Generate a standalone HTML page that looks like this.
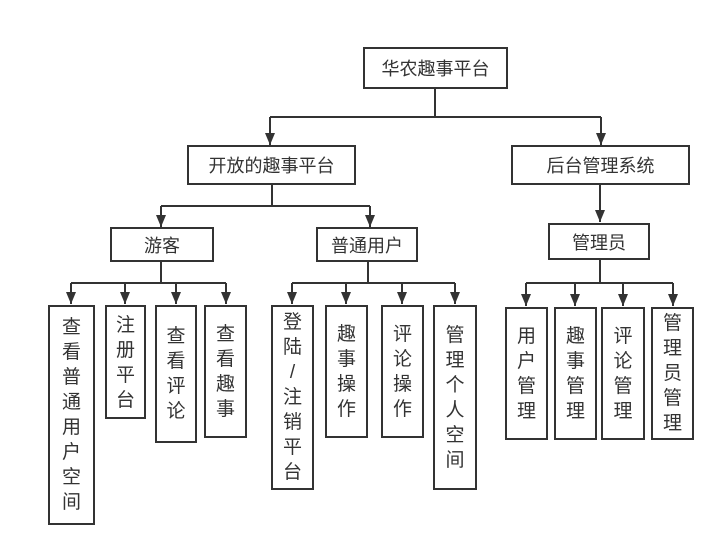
<!DOCTYPE html>
<html><head><meta charset="utf-8"><style>
body{margin:0;background:#fff;width:726px;height:556px;position:relative;overflow:hidden;font-family:"Liberation Sans","Noto Sans CJK SC",sans-serif;color:#333}
.b{position:absolute;box-sizing:border-box;border:2px solid #333;background:#fff;display:flex;align-items:center;justify-content:center;font-size:18px;text-align:center}
.v{line-height:25px;font-size:19px}
svg{position:absolute;left:0;top:0}
</style></head><body>
<svg width="726" height="556">
<defs><marker id="a" markerWidth="10" markerHeight="12" refX="5" refY="12" orient="0" markerUnits="userSpaceOnUse" viewBox="0 0 10 12"><path d="M0,0 L10,0 L5,12 z" fill="#333" stroke="none"/></marker></defs>
<g stroke="#333" stroke-width="2" fill="none">
<path d="M435,89V117M270,117H601"/>
<path d="M270,117V145" marker-end="url(#a)"/><path d="M601,117V145" marker-end="url(#a)"/>
<path d="M272,185V206M161,206H370"/>
<path d="M161,206V227" marker-end="url(#a)"/><path d="M370,206V227" marker-end="url(#a)"/>
<path d="M600,185V222" marker-end="url(#a)"/>
<path d="M161,262V283M71,283H226"/>
<path d="M71,283V304" marker-end="url(#a)"/><path d="M125,283V304" marker-end="url(#a)"/><path d="M176,283V304" marker-end="url(#a)"/><path d="M226,283V304" marker-end="url(#a)"/>
<path d="M368,262V283M292,283H455"/>
<path d="M292,283V304" marker-end="url(#a)"/><path d="M346,283V304" marker-end="url(#a)"/><path d="M402,283V304" marker-end="url(#a)"/><path d="M455,283V304" marker-end="url(#a)"/>
<path d="M600,260V283M526,283H673"/>
<path d="M526,283V306" marker-end="url(#a)"/><path d="M575,283V306" marker-end="url(#a)"/><path d="M623,283V306" marker-end="url(#a)"/><path d="M673,283V306" marker-end="url(#a)"/>
</g></svg>
<div class="b" style="left:363px;top:47px;width:145px;height:42px">华农趣事平台</div>
<div class="b" style="left:187px;top:145px;width:169px;height:40px">开放的趣事平台</div>
<div class="b" style="left:511px;top:145px;width:179px;height:40px">后台管理系统</div>
<div class="b" style="left:110px;top:227px;width:104px;height:35px">游客</div>
<div class="b" style="left:316px;top:227px;width:102px;height:35px">普通用户</div>
<div class="b" style="left:548px;top:223px;width:102px;height:37px">管理员</div>
<div class="b v" style="left:48px;top:305px;width:47px;height:220px">查<br>看<br>普<br>通<br>用<br>户<br>空<br>间</div>
<div class="b v" style="left:105px;top:305px;width:41px;height:114px;align-items:flex-start;padding-top:6px">注<br>册<br>平<br>台</div>
<div class="b v" style="left:155px;top:305px;width:42px;height:138px">查<br>看<br>评<br>论</div>
<div class="b v" style="left:204px;top:305px;width:43px;height:133px">查<br>看<br>趣<br>事</div>
<div class="b v" style="left:271px;top:305px;width:43px;height:185px">登<br>陆<br>/<br>注<br>销<br>平<br>台</div>
<div class="b v" style="left:325px;top:305px;width:43px;height:133px">趣<br>事<br>操<br>作</div>
<div class="b v" style="left:381px;top:305px;width:43px;height:133px">评<br>论<br>操<br>作</div>
<div class="b v" style="left:433px;top:305px;width:44px;height:185px">管<br>理<br>个<br>人<br>空<br>间</div>
<div class="b v" style="left:505px;top:307px;width:43px;height:133px">用<br>户<br>管<br>理</div>
<div class="b v" style="left:554px;top:307px;width:43px;height:133px">趣<br>事<br>管<br>理</div>
<div class="b v" style="left:601px;top:307px;width:44px;height:133px">评<br>论<br>管<br>理</div>
<div class="b v" style="left:651px;top:307px;width:43px;height:133px">管<br>理<br>员<br>管<br>理</div>
</body></html>
